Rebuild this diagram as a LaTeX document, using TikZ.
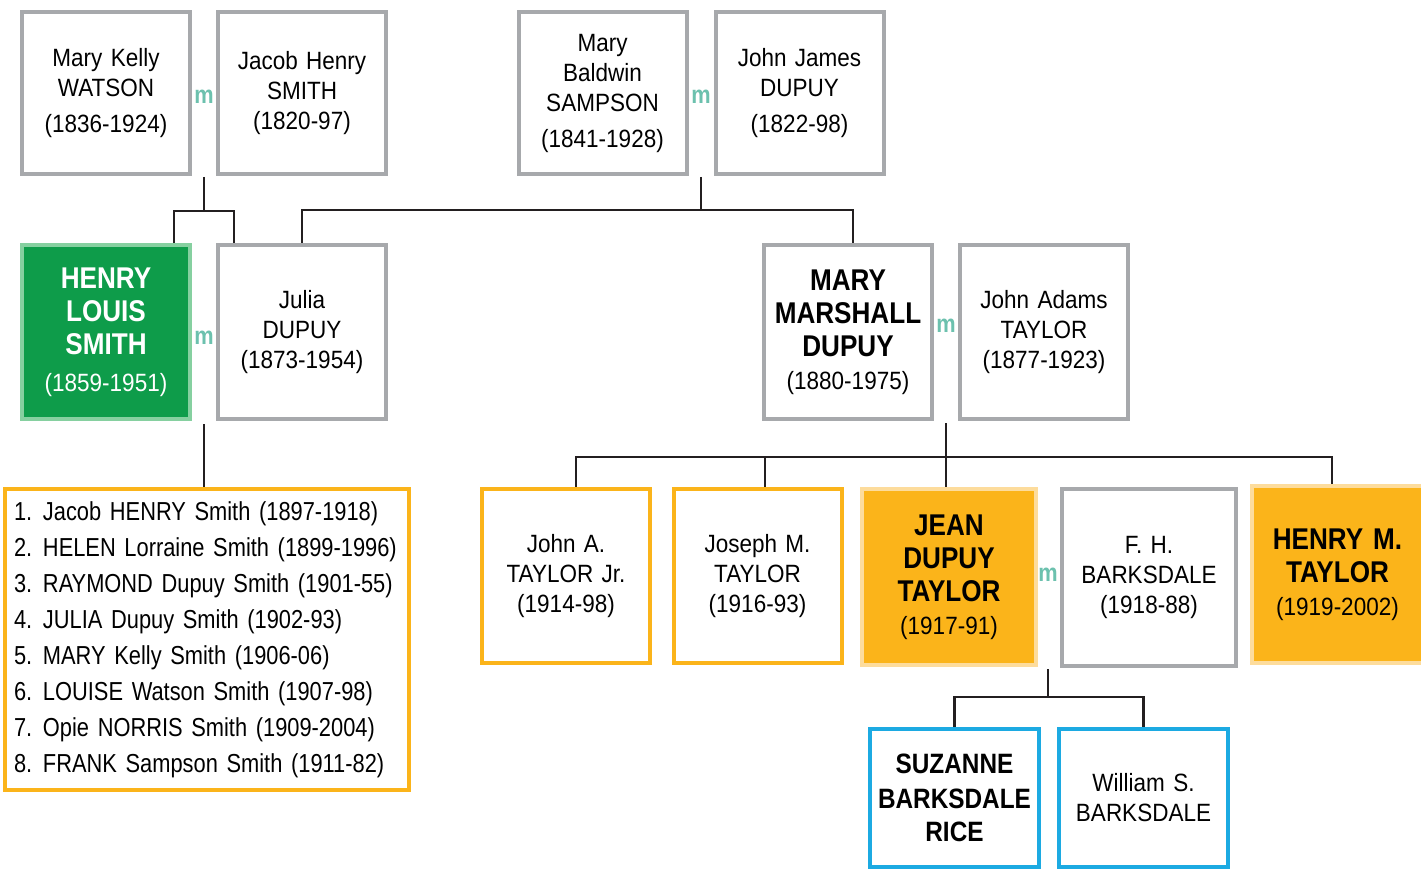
\documentclass[tikz,border=0pt]{standalone}
\usepackage{fontspec}
\setmainfont{Liberation Sans}[FakeStretch=0.9,BoldFeatures={FakeStretch=0.87}]
\newfontfamily\listfont{Liberation Sans}[FakeStretch=0.84]
\usetikzlibrary{calc}
\definecolor{boxgray}{HTML}{A7A9AC}
\definecolor{hgreen}{HTML}{0E9C4A}
\definecolor{hgreenlt}{HTML}{86D0A0}
\definecolor{gold}{HTML}{FBB41A}
\definecolor{goldlt}{HTML}{FDDC9C}
\definecolor{skyblue}{HTML}{1CAAE2}
\definecolor{mteal}{HTML}{6CC1AE}
\definecolor{linek}{HTML}{231F20}
\newcommand{\li}[1]{\makebox[29pt][l]{#1}}
\begin{document}
\begin{tikzpicture}[x=1pt,y=-1pt,
  box/.style={line width=4pt, inner sep=0pt, align=center, text width=160pt,
    minimum width=168pt, font=\fontsize{25}{30}\selectfont},
  gbox/.style={box, draw=boxgray, fill=white},
  obox/.style={box, draw=gold, fill=white},
  ofill/.style={box, draw=goldlt, fill=gold},
  grbox/.style={box, draw=hgreenlt, fill=hgreen, text=white},
  bbox/.style={box, draw=skyblue, fill=white},
  toprow/.style={minimum height=162pt},
  midrow/.style={minimum height=174pt},
  mlabel/.style={text=mteal, font=\bfseries\fontsize{25}{25}\selectfont, inner sep=0pt},
  conn/.style={draw=linek, line width=2.2pt},
  bigname/.style={font=\bfseries\fontsize{30}{33}\selectfont}
]
\useasboundingbox (0,0) rectangle (1421,869);
\fill[white] (0,0) rectangle (1421,869);
\clip (0,0) rectangle (1421,869);

% Row 1
\node[gbox,toprow] (mkw) at (106,93) {Mary Kelly\\WATSON\\[6pt](1836-1924)};
\node[gbox,toprow] (jhs) at (302,93) {Jacob Henry\\SMITH\\(1820-97)};
\node[gbox,toprow] (mbs) at (602.5,93) {Mary\\Baldwin\\SAMPSON\\[6pt](1841-1928)};
\node[gbox,toprow] (jjd) at (799.5,93) {John James\\DUPUY\\[6pt](1822-98)};
\node[mlabel] (m1) at (204,97) {m};
\node[mlabel] (m2) at (701,97) {m};

% Row 2
\node[grbox,midrow,bigname] (hls) at (106,332) {HENRY\\LOUIS\\SMITH\\[4pt]\mdseries\fontsize{25}{33}\selectfont(1859-1951)};
\node[gbox,midrow] (jd) at (302,332) {Julia\\DUPUY\\(1873-1954)};
\node[gbox,midrow,bigname] (mmd) at (848,332) {MARY\\MARSHALL\\DUPUY\\\mdseries\fontsize{25}{33}\selectfont(1880-1975)};
\node[gbox,midrow] (jat) at (1044,332) {John Adams\\TAYLOR\\(1877-1923)};
\node[mlabel] (m3) at (204,338) {m};
\node[mlabel] (m4) at (946,326) {m};

% Children list
\node[obox, minimum width=404pt, minimum height=301pt, text width=386pt, align=left,
  font=\listfont\fontsize{26}{36}\selectfont] (kids) at (207,639.5) {%
\li{1.}Jacob HENRY Smith (1897-1918)\\
\li{2.}HELEN Lorraine Smith (1899-1996)\\
\li{3.}RAYMOND Dupuy Smith (1901-55)\\
\li{4.}JULIA Dupuy Smith (1902-93)\\
\li{5.}MARY Kelly Smith (1906-06)\\
\li{6.}LOUISE Watson Smith (1907-98)\\
\li{7.}Opie NORRIS Smith (1909-2004)\\
\li{8.}FRANK Sampson Smith (1911-82)};

% Row 3
\node[obox,midrow] (jatj) at (566,576) {John A.\\TAYLOR Jr.\\(1914-98)};
\node[obox,midrow] (jmt) at (757.5,576) {Joseph M.\\TAYLOR\\(1916-93)};
\node[ofill,bigname,minimum width=174pt,minimum height=176pt] (jdt) at (949,577) {JEAN\\DUPUY\\TAYLOR\\\mdseries\fontsize{25}{33}\selectfont(1917-91)};
\node[gbox,minimum width=174pt,minimum height=177pt] (fhb) at (1149,577.5) {F. H.\\BARKSDALE\\(1918-88)};
\node[ofill,bigname,minimum width=171pt,minimum height=177pt] (hmt) at (1337.5,574.5) {HENRY M.\\TAYLOR\\\mdseries\fontsize{25}{32}\selectfont(1919-2002)};
\node[mlabel] (m5) at (1048,575) {m};

% Row 4
\node[bbox,bigname,minimum width=169pt,minimum height=138pt] (sbr) at (954.5,798) {\fontsize{28}{35}\selectfont SUZANNE\\BARKSDALE\\RICE};
\node[bbox,minimum width=169pt,minimum height=138pt] (wsb) at (1143.5,798) {William S.\\BARKSDALE};

% Connectors
\coordinate (c1) at (204,177);
\coordinate (j1) at (204,211);
\draw[conn] (c1) -- (j1) -| ([xshift=-18pt]hls.north east);
\draw[conn] (j1) -| ([xshift=18pt]jd.north west);

\coordinate (c2) at (701,177);
\coordinate (j2) at (701,210);
\draw[conn] (c2) -- (j2) -| (jd.north);
\draw[conn] (j2) -| ([xshift=5pt]mmd.north);

\coordinate (c3) at (204,424);
\draw[conn] (c3) -- (c3 |- kids.north);

\coordinate (c4) at (946,423);
\coordinate (j4) at (946,457);
\draw[conn] (c4) -- (j4) -| ([xshift=10pt]jatj.north);
\draw[conn] (j4) -| ([xshift=7.5pt]jmt.north);
\draw[conn] (j4) -- (j4 |- jdt.north);
\draw[conn] (j4) -| ([xshift=-5.5pt]hmt.north);

\coordinate (c5) at (1048,669);
\coordinate (j5) at (1048,697);
\draw[conn] (c5) -- (j5) -| (sbr.north);
\draw[conn] (j5) -| (wsb.north);
\end{tikzpicture}
\end{document}
